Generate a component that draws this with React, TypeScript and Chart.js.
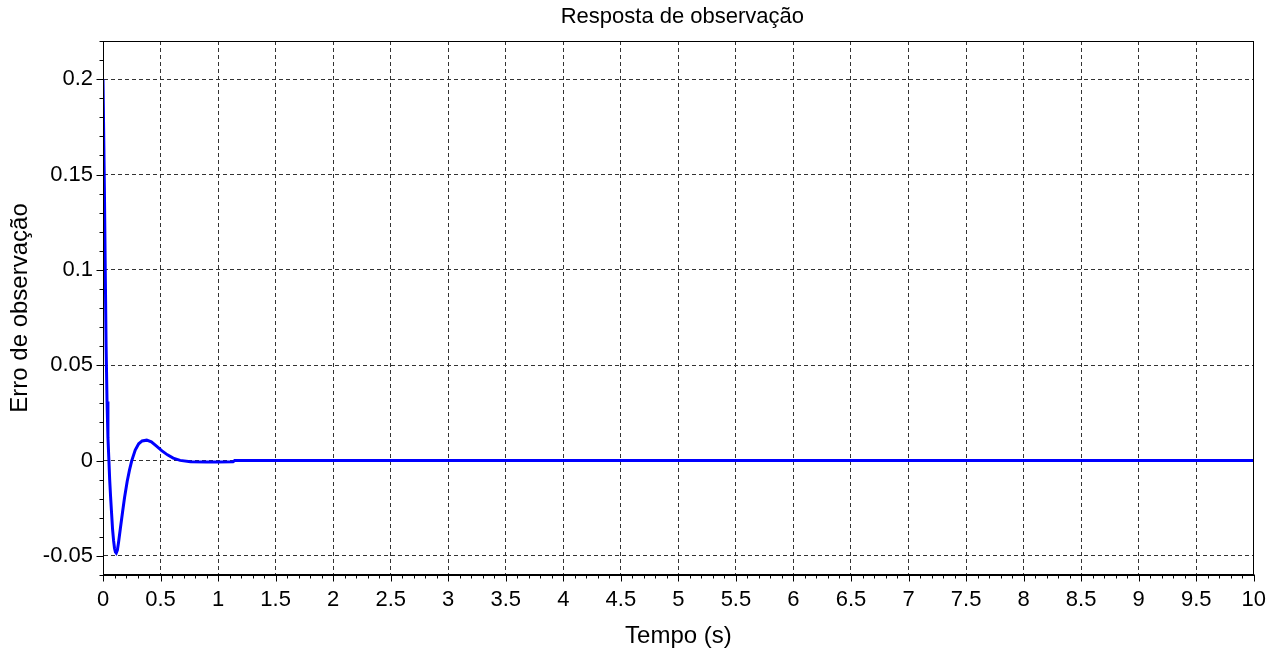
import React, { useEffect, useRef } from "react";
import { Chart, registerables } from "chart.js";

Chart.register(...registerables);

const chartTitle = "Resposta de observação";
const xAxisTitle = "Tempo (s)";
const yAxisTitle = "Erro de observação";

const timeValues = [
  0, 0.012, 0.02, 0.027, 0.035, 0.043, 0.05, 0.058, 0.066, 0.075, 0.083, 0.092,
  0.1, 0.108, 0.115, 0.125, 0.135, 0.15, 0.17, 0.187, 0.21, 0.23, 0.25, 0.28,
  0.31, 0.34, 0.38, 0.42, 0.46, 0.51, 0.56, 0.61, 0.67, 0.76, 0.9, 1.0, 1.13,
  1.145, 10,
];
const errorValues = [
  0.2, 0.143, 0.098, 0.06, 0.031, 0.012, 0.002, -0.01, -0.019, -0.028, -0.036,
  -0.042, -0.046, -0.048, -0.0485, -0.047, -0.043, -0.036, -0.027, -0.0195,
  -0.011, -0.005, 0, 0.0055, 0.0088, 0.0103, 0.0107, 0.0098, 0.0078, 0.0052,
  0.003, 0.0013, 0.0001, -0.0006, -0.0007, -0.0007, -0.0006, 0, 0,
];

const xTickValues = [0, 0.5, 1, 1.5, 2, 2.5, 3, 3.5, 4, 4.5, 5, 5.5, 6, 6.5, 7, 7.5, 8, 8.5, 9, 9.5, 10];
const xTickLabels = ["0", "0.5", "1", "1.5", "2", "2.5", "3", "3.5", "4", "4.5", "5", "5.5", "6", "6.5", "7", "7.5", "8", "8.5", "9", "9.5", "10"];
const yTickValues = [-0.05, 0, 0.05, 0.1, 0.15, 0.2];
const yTickLabels = ["-0.05", "0", "0.05", "0.1", "0.15", "0.2"];

const xRange = [0, 10];
const yRange = [-0.06, 0.22];
const xMinorStep = 0.1;
const yMinorStep = 0.01;

const FONT = '"Liberation Sans", Arial, Helvetica, sans-serif';

const decorPlugin = {
  id: "decor",
  afterDraw(chart: any) {
    const { ctx, chartArea: a, scales } = chart;
    const x = scales.x;
    const y = scales.y;
    ctx.save();
    ctx.setLineDash([]);
    ctx.strokeStyle = "#000";
    ctx.lineWidth = 1;
    const L = Math.round(a.left) + 0.5;
    const R = Math.round(a.right) - 0.5;
    const T = Math.round(a.top) + 0.5;
    const B = Math.round(a.bottom) - 0.5;
    ctx.strokeRect(L, T, R - L, B - T);

    ctx.beginPath();
    const nx = Math.round((xRange[1] - xRange[0]) / xMinorStep);
    for (let i = 0; i <= nx; i++) {
      const v = xRange[0] + i * xMinorStep;
      const major = xTickValues.some((t) => Math.abs(t - v) < 1e-9);
      const px = Math.round(x.getPixelForValue(v)) + 0.5;
      ctx.moveTo(px, B);
      ctx.lineTo(px, B + (major ? 7 : 4));
    }
    const ny = Math.round((yRange[1] - yRange[0]) / yMinorStep);
    for (let i = 0; i <= ny; i++) {
      const v = yRange[0] + i * yMinorStep;
      const major = yTickValues.some((t) => Math.abs(t - v) < 1e-9);
      const py = Math.round(y.getPixelForValue(v)) + 0.5;
      ctx.moveTo(L, py);
      ctx.lineTo(L - (major ? 7 : 4), py);
    }
    ctx.stroke();

    ctx.fillStyle = "#000";
    ctx.font = `22px ${FONT}`;
    ctx.textAlign = "center";
    ctx.textBaseline = "middle";
    ctx.fillText(chartTitle, (a.left + a.right) / 2 + 4, 17);
    ctx.restore();
  },
};

export default function App() {
  const canvasRef = useRef<HTMLCanvasElement | null>(null);

  useEffect(() => {
    document.body.style.margin = "0";
    const canvas = canvasRef.current;
    if (!canvas) return;
    const points = timeValues.map((t, i) => ({ x: t, y: errorValues[i] }));
    const chart = new Chart(canvas, {
      type: "line",
      data: {
        datasets: [
          {
            data: points,
            borderColor: "#0000ff",
            borderWidth: 3,
            pointRadius: 0,
            tension: 0,
            fill: false,
          },
        ],
      },
      options: {
        animation: false,
        responsive: false,
        devicePixelRatio: 1,
        layout: { padding: { top: 41, right: 22, left: 0, bottom: 0 } },
        plugins: {
          legend: { display: false },
          title: { display: false },
          tooltip: { enabled: false },
        },
        scales: {
          x: {
            type: "linear",
            min: xRange[0],
            max: xRange[1],
            afterBuildTicks: (scale: any) => {
              scale.ticks = xTickValues.map((v) => ({ value: v }));
            },
            afterFit: (scale: any) => {
              scale.height = 76;
            },
            ticks: {
              autoSkip: false,
              maxRotation: 0,
              padding: 12,
              color: "#000",
              font: { family: FONT, size: 22 },
              callback: (value: any) => {
                const i = xTickValues.findIndex((t) => Math.abs(t - Number(value)) < 1e-9);
                return i >= 0 ? xTickLabels[i] : "";
              },
            },
            grid: {
              color: "#333",
              lineWidth: 1,
              drawTicks: false,
            },
            border: { display: true, color: "#000", width: 1, dash: [4, 3] },
            title: {
              display: true,
              text: xAxisTitle,
              color: "#000",
              font: { family: FONT, size: 24 },
              padding: { top: 0, bottom: 0 },
            },
          },
          y: {
            type: "linear",
            min: yRange[0],
            max: yRange[1],
            afterBuildTicks: (scale: any) => {
              scale.ticks = yTickValues.map((v) => ({ value: v }));
            },
            afterFit: (scale: any) => {
              scale.width = 103;
            },
            ticks: {
              autoSkip: false,
              padding: 10,
              color: "#000",
              font: { family: FONT, size: 22 },
              callback: (value: any) => {
                const i = yTickValues.findIndex((t) => Math.abs(t - Number(value)) < 1e-9);
                return i >= 0 ? yTickLabels[i] : "";
              },
            },
            grid: {
              color: "#333",
              lineWidth: 1,
              drawTicks: false,
            },
            border: { display: true, color: "#000", width: 1, dash: [4, 3] },
            title: {
              display: true,
              text: yAxisTitle,
              color: "#000",
              font: { family: FONT, size: 24 },
              padding: { top: 6, bottom: 0 },
            },
          },
        },
      },
      plugins: [decorPlugin],
    } as any);
    return () => chart.destroy();
  }, []);

  return (
    <div style={{ position: "absolute", left: 0, top: 0, width: 1278, height: 651 }}>
      <canvas ref={canvasRef} width={1278} height={651} />
    </div>
  );
}
